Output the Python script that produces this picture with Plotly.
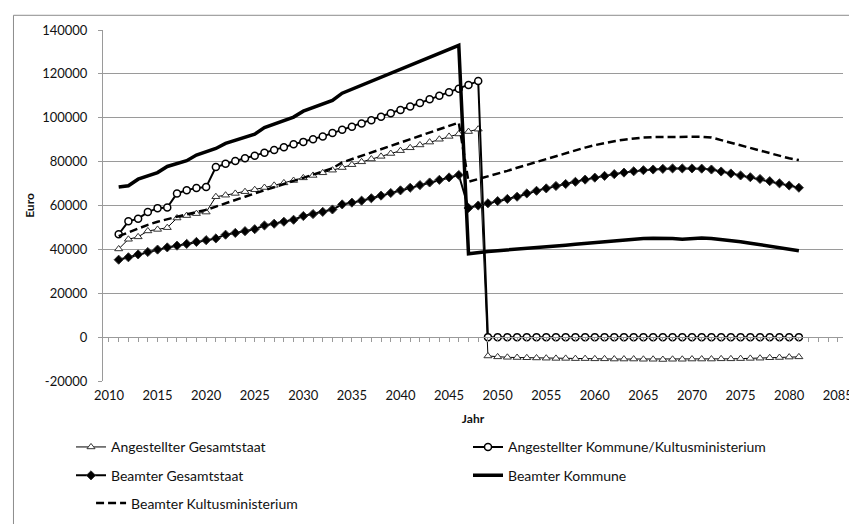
import plotly.graph_objects as go

years = list(range(2011, 2082))

angestellter_gesamtstaat = [
    40200, 44600, 45700, 48400, 49100, 49900, 54300, 55400, 56300, 57000,
    64000, 64700, 65500, 66300, 67200, 68200, 69200, 70300, 71400, 72600,
    73700, 74900, 76100, 77300, 78600, 79900, 81200, 82400, 83700, 85000,
    86300, 87600, 88900, 90200, 91500, 92600, 93700, 94800,
    -8600, -9000, -9200, -9300, -9400, -9500, -9600, -9700, -9700, -9800,
    -9800, -9900, -9900, -10000, -10000, -10000, -10100, -10100, -10200, -10100,
    -10100, -10000, -10000, -10000, -9900, -9900, -9800, -9700, -9600, -9400,
    -9300, -9100, -9000,
]

angestellter_kommune = [
    46900, 52800, 54000, 57000, 58800, 59100, 65500, 67000, 68000, 68400,
    77500, 79000, 80300, 81500, 82700, 84000, 85300, 86600, 87900, 89000,
    90200, 91500, 93000, 94500, 95900, 97400, 98900, 100500, 102000, 103500,
    105100, 106700, 108400, 110000, 111600, 113200, 114900, 116700,
] + [0] * 33

beamter_gesamtstaat = [
    35300, 36400, 37700, 38800, 39900, 40900, 41700, 42500, 43400, 44200,
    45000, 46700, 47500, 48300, 49200, 50900, 51700, 52600, 53500, 55200,
    56100, 57100, 58200, 60500, 61300, 62200, 63300, 64500, 65700, 66900,
    68100, 69300, 70500, 71700, 72800, 73900,
    58900, 60000, 61000, 62000, 63000, 64000, 65500, 66700, 67800, 68900,
    69800, 70800, 71800, 72700, 73500, 74300, 75000, 75600, 76100, 76400,
    76700, 76900, 76900, 76900, 76800, 76400, 75500, 74600, 73700, 72900,
    72100, 71100, 70100, 69100, 68100,
]

beamter_kommune = [
    68400, 69000, 72000, 73500, 75000, 77800, 79000, 80400, 83000, 84500,
    86000, 88300, 89800, 91300, 92500, 95500, 97000, 98700, 100300, 103000,
    104700, 106300, 107900, 111200, 113000, 114800, 116700, 118500, 120300, 122200,
    124000, 125800, 127700, 129500, 131300, 133000,
    38000, 38700, 39000, 39400, 39700, 40000, 40300, 40700, 41100, 41500,
    41900, 42300, 42700, 43100, 43500, 43900, 44300, 44700, 45000, 45100,
    45200, 45000, 44600, 45100, 45200, 45000, 44600, 44000, 43500, 42800,
    42100, 41300, 40600, 40000, 39400,
]

beamter_kultus = [
    46000, 47800, 49600, 51200, 52600, 53800, 55000, 56000, 57000, 58000,
    59500, 61100, 62600, 64000, 65500, 67000, 68400, 69800, 71200, 72600,
    74000, 75400, 77000, 79600, 81100, 82600, 84100, 85600, 87200, 88700,
    90200, 91700, 93200, 94700, 96300, 97800,
    70800, 72000, 73200, 74500, 75800, 77200, 78500, 79900, 81200, 82600,
    84000, 85200, 86400, 87500, 88500, 89300, 90000, 90600, 91000, 91200,
    91300, 91300, 91300, 91300, 91300, 91000, 89800, 88600, 87400, 86100,
    84800, 83600, 82400, 81500, 80700,
]

x_ticks = list(range(2010, 2086, 5))
y_ticks = list(range(-20000, 140001, 20000))

FONT = "Lato, Carlito, sans-serif"
GRID = "#9a9a9a"

fig = go.Figure()

fig.add_trace(go.Scatter(
    x=years, y=angestellter_gesamtstaat, name="Angestellter Gesamtstaat",
    mode="lines+markers", line=dict(color="black", width=1),
    marker=dict(symbol="triangle-up", size=7, color="white",
                line=dict(color="#333333", width=1)),
    legend="legend"))
fig.add_trace(go.Scatter(
    x=years, y=angestellter_kommune, name="Angestellter Kommune/Kultusministerium",
    mode="lines+markers", line=dict(color="black", width=2),
    marker=dict(symbol="circle", size=7, color="white",
                line=dict(color="black", width=1.5)),
    legend="legend"))
fig.add_trace(go.Scatter(
    x=years, y=beamter_gesamtstaat, name="Beamter Gesamtstaat",
    mode="lines+markers", line=dict(color="black", width=2),
    marker=dict(symbol="diamond", size=7, color="black",
                line=dict(color="#333333", width=1)),
    legend="legend2"))
fig.add_trace(go.Scatter(
    x=years, y=beamter_kommune, name="Beamter Kommune",
    mode="lines", line=dict(color="black", width=3.5),
    legend="legend2"))
fig.add_trace(go.Scatter(
    x=years, y=beamter_kultus, name="Beamter Kultusministerium",
    mode="lines", line=dict(color="black", width=2.5, dash="8px,4px"),
    legend="legend3"))

xr = [2009.386, 2085.54]

leg_common = dict(orientation="h", x=(83 - 95) / 744, xanchor="left", yanchor="middle",
                  font=dict(family=FONT, size=14, color="#111111"),
                  bgcolor="rgba(0,0,0,0)", entrywidth=352, entrywidthmode="pixels",
                  itemclick=False, itemdoubleclick=False)

fig.update_layout(
    width=857, height=524,
    margin=dict(l=95, r=18, t=22, b=144),
    paper_bgcolor="white", plot_bgcolor="white",
    font=dict(family=FONT, size=13, color="#111111"),
    showlegend=True,
    legend=dict(leg_common, y=-0.189),
    legend2=dict(leg_common, y=-0.270),
    legend3=dict(leg_common, y=-0.349),
    xaxis=dict(
        range=xr, tickmode="array", tickvals=x_ticks, ticktext=[str(v) for v in x_ticks],
        showgrid=False, zeroline=False, showline=False, ticks="",
        ticklabelstandoff=5,
        tickfont=dict(family=FONT, size=13, color="#111111"),
        title=dict(text="<b>Jahr</b>", font=dict(family=FONT, size=12, color="#111111"),
                   standoff=12),
    ),
    xaxis2=dict(
        range=xr, overlaying="x", anchor="free", position=0.125, side="bottom",
        showline=True, linecolor=GRID, linewidth=1, ticks="outside", ticklen=4,
        tickcolor=GRID, tickmode="linear", tick0=2010, dtick=1,
        showticklabels=False, showgrid=False, zeroline=False,
    ),
    yaxis=dict(
        range=[-20000, 140000], tickmode="array", tickvals=y_ticks,
        ticktext=[str(v) for v in y_ticks],
        showgrid=True, gridcolor=GRID, gridwidth=1, zeroline=False,
        showline=True, linecolor=GRID, linewidth=1, ticks="outside", ticklen=4,
        tickcolor=GRID, ticklabelstandoff=8,
        tickfont=dict(family=FONT, size=13, color="#111111"),
        title=dict(text="<b>Euro</b>", font=dict(family=FONT, size=12, color="#111111"),
                   standoff=4),
    ),
    shapes=[dict(type="rect", xref="paper", yref="paper",
                 x0=(5 - 95) / 744, x1=(900 - 95) / 744,
                 y0=-(560 - 380) / 358, y1=1 + (22 - 7) / 358,
                 line=dict(color="#8c8c8c", width=1), fillcolor="rgba(0,0,0,0)",
                 layer="below")],
)

# invisible trace to activate xaxis2 (the crossing axis at y = 0)
fig.add_trace(go.Scatter(x=[xr[0]], y=[0], xaxis="x2", mode="markers",
                         marker=dict(opacity=0), showlegend=False, hoverinfo="skip"))

fig.write_html("out.html")
